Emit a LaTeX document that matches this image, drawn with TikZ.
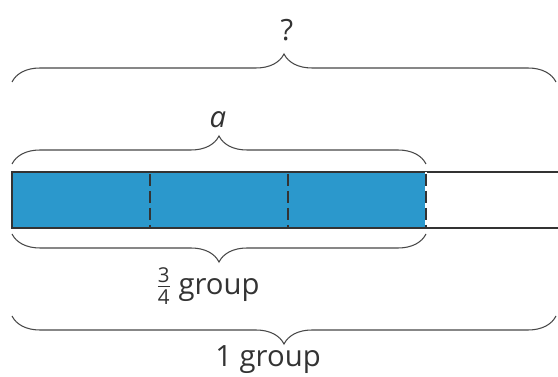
\documentclass[tikz,border=0pt]{standalone}
\usepackage{amsmath}
\usepackage{fontspec}
\setmainfont{Open Sans}
\usetikzlibrary{decorations.pathreplacing,positioning}
\definecolor{barblue}{RGB}{43,152,204}
\definecolor{ink}{RGB}{51,51,51}
\begin{document}
\begin{tikzpicture}[x=0.03cm,y=-0.03cm,font=\fontsize{25}{30}\selectfont,
  brc/.style={draw=ink!90,line width=0.9pt,decorate,decoration={brace,amplitude=0.84cm}},
  lbl/.style={text=ink,inner sep=0pt},
  cut/.style={draw=ink,line width=1.5pt,dash pattern=on 0.36cm off 0.15cm}]
\useasboundingbox (0,0) rectangle (558,377);
% the tape
\coordinate (tl) at (12,172);
\coordinate (br) at (426,228);
\fill[barblue] (tl) rectangle (br);
\draw[ink,line width=1.5pt] (558,172) -- (tl) -- (12,228) -- (558,228);
\draw[white,line width=1.5pt] (426,172) -- (426,228);
\foreach \x in {150,288,426}
  \draw[cut] (\x,174) -- (\x,228);
% braces
\draw[brc] (12,82) -- (556,82);
\draw[brc] (12,164) -- (426,164);
\draw[brc] (426,234) -- (12,234);
\draw[brc] (556,316) -- (12,316);
% labels
\node[lbl] (q) at (287,30) {?};
\node[lbl] (a) at (218,120) {\textit{a}};
\node[lbl] (part) at (208,286) {$\frac{\text{3}}{\text{4}}$ group};
\node[lbl] (whole) at (268,360) {1 group};
\end{tikzpicture}
\end{document}
